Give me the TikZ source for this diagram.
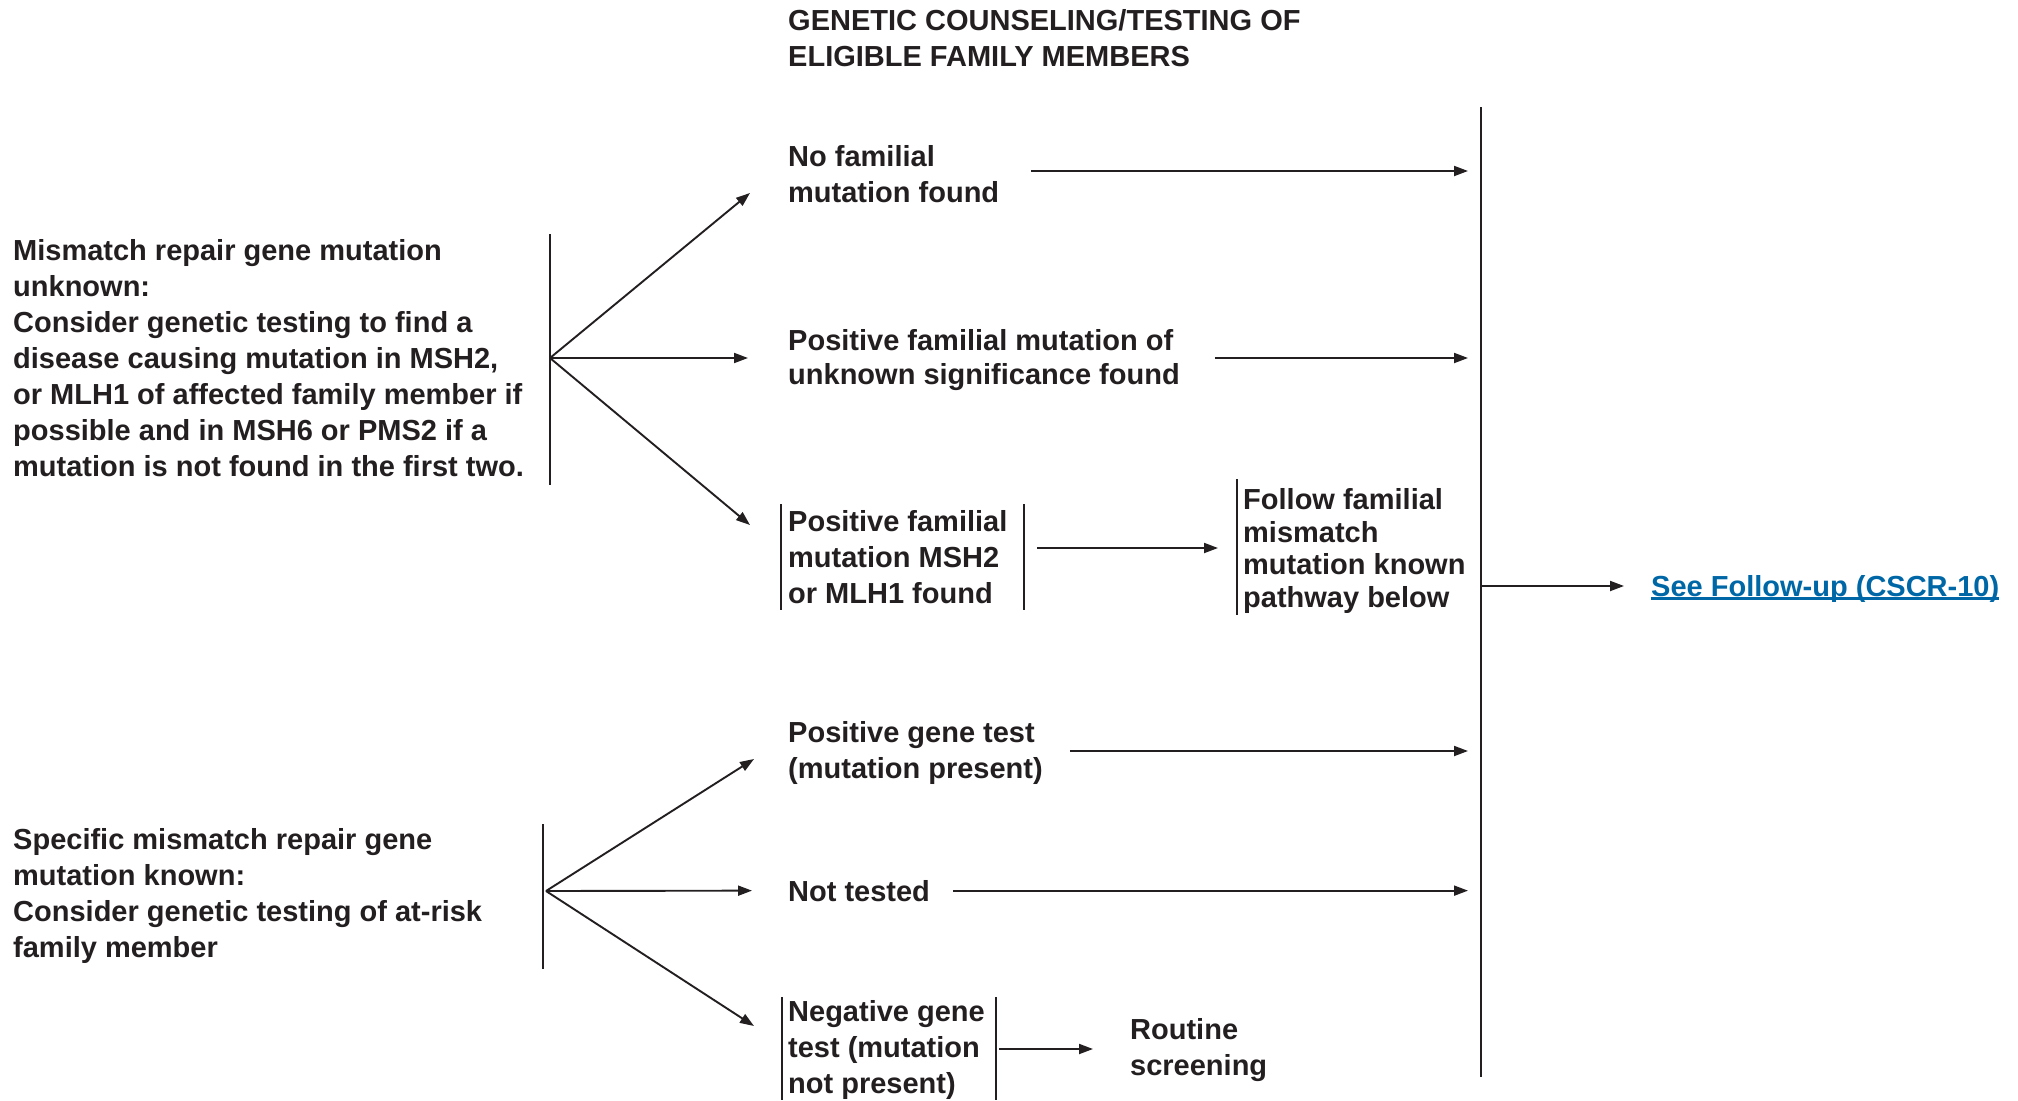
\documentclass[tikz,border=0pt]{standalone}
\usepackage{fontspec}
\setmainfont{Liberation Sans}
\usetikzlibrary{arrows.meta,calc}
\definecolor{ink}{RGB}{35,31,32}
\definecolor{linkblue}{RGB}{0,103,166}
\begin{document}
\begin{tikzpicture}[x=1pt,y=-1pt,
  txt/.style={font=\fontsize{29}{36}\selectfont\bfseries, align=left, inner sep=0pt, text=ink},
  tight/.style={font=\fontsize{29}{32.5}\selectfont\bfseries},
  mid/.style={font=\fontsize{29}{34}\selectfont\bfseries},
  ln/.style={draw=ink, line width=1.9pt},
  arr/.style={ln, -{Triangle[length=14pt,width=10pt]}},
  link/.style={font=\fontsize{29}{36}\selectfont\bfseries, inner sep=0pt, text=linkblue}]
\useasboundingbox (0,0) rectangle (2018,1100);

% heading
\node[txt, anchor=west] (title) at (788,38) {GENETIC COUNSELING/TESTING OF\\ELIGIBLE FAMILY MEMBERS};

% starting situations
\node[txt, anchor=west] (unk) at (13,358) {Mismatch repair gene mutation\\unknown:\\Consider genetic testing to find a\\disease causing mutation in MSH2,\\or MLH1 of affected family member if\\possible and in MSH6 or PMS2 if a\\mutation is not found in the first two.};
\node[txt, anchor=west] (known) at (13,896) {Specific mismatch repair gene\\mutation known:\\Consider genetic testing of at-risk\\family member};

% outcomes of testing
\node[txt, anchor=west] (nf) at (788,174) {No familial\\mutation found};
\node[txt, mid, anchor=west] (pu) at (788,360) {Positive familial mutation of\\unknown significance found};
\node[txt, anchor=west] (pm) at (788,557) {Positive familial\\mutation MSH2\\or MLH1 found};
\node[txt, tight, anchor=west] (ff) at (1243,551) {Follow familial\\mismatch\\mutation known\\pathway below};
\node[txt, anchor=west] (pg) at (788,753) {Positive gene test\\(mutation present)};
\node[txt, anchor=base west] (nt) at (788,901) {Not tested};
\node[txt, anchor=west] (ng) at (788,1050) {Negative gene\\test (mutation\\not present)};
\node[txt, anchor=west] (rs) at (1130,1050) {Routine\\screening};
\node[link, anchor=base west] (fu) at (1651,596) {See Follow-up (CSCR-10)};
\draw[linkblue, line width=2.6pt] ([yshift=-2.5pt]fu.base west) -- ([yshift=-2.5pt]fu.base east);

% bracket bars
\draw[ln] (550,234) -- (550,485);
\draw[ln] (543,824) -- (543,969);
\draw[ln] (781,504) -- (781,610);
\draw[ln] (1024,504) -- (1024,610);
\draw[ln] (1237,479) -- (1237,615);
\draw[ln] (782,997) -- (782,1100);
\draw[ln] (996,997) -- (996,1100);
\coordinate (barT) at (1481,107);
\coordinate (barB) at (1481,1077);
\draw[ln] (barT) -- (barB);

% branch points
\coordinate (b1) at (550,358);
\coordinate (b2) at (546,891);

% branches from the first situation
\draw[arr] (b1) -- ($(nf.west)+(-38,19)$);
\draw[arr] (b1) -- ($(pu.west)+(-40,-2)$);
\draw[arr] (b1) -- ($(pm.west)+(-38,-32)$);

% branches from the second situation
\draw[arr] (b2) -- ($(pg.west)+(-34,6)$);
\draw[arr] (b2) -- ($(nt.west)+(-36,0)$);
\draw[arr] (b2) -- ($(ng.west)+(-34,-24)$);

% outcomes into the collecting bar
\draw[arr] ([xshift=32pt,yshift=3pt]nf.east) -- ([xshift=-13pt,yshift=3pt]nf.east -| barT);
\draw[arr] ([xshift=35pt,yshift=2pt]pu.east) -- ([xshift=-13pt,yshift=2pt]pu.east -| barT);
\draw[arr] ([xshift=27pt,yshift=2pt]pg.east) -- ([xshift=-13pt,yshift=2pt]pg.east -| barT);
\draw[arr] ([xshift=23pt]nt.east) -- ([xshift=-13pt]nt.east -| barT);
\draw[arr] (1037,548) -- ($(ff.west)+(-25,-3)$);
\draw[arr] (999,1049) -- ($(rs.west)+(-37,-1)$);

% collecting bar to follow-up
\draw[arr] ([yshift=10pt]barT |- fu.base) -- ([xshift=-27pt,yshift=10pt]fu.base west);
\end{tikzpicture}
\end{document}
